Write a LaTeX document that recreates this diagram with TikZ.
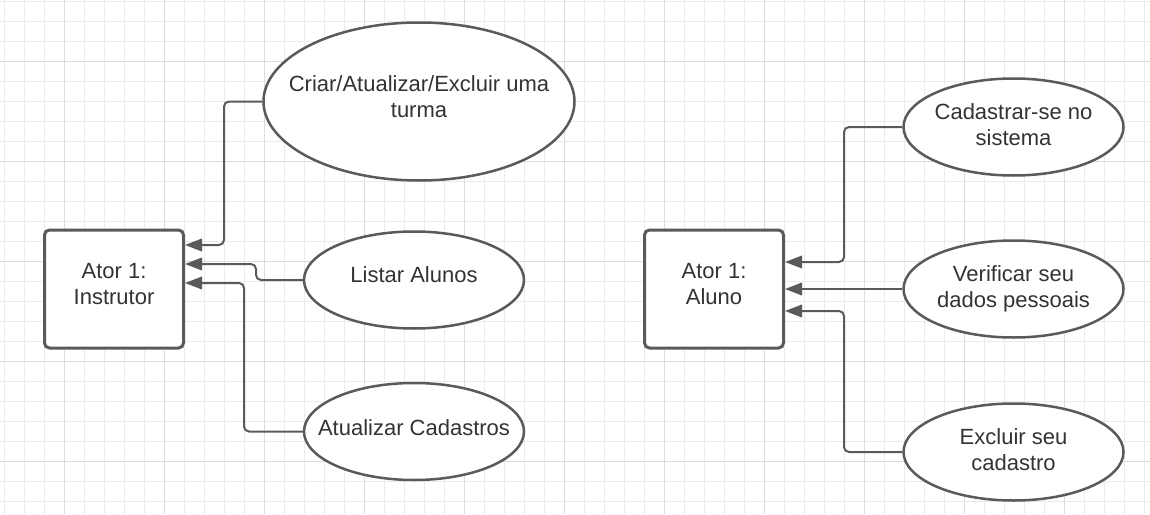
\documentclass[tikz,border=0pt]{standalone}
\usepackage{fontspec}
\setmainfont{Liberation Sans}
\usetikzlibrary{arrows.meta,shapes.geometric}
\definecolor{linegray}{HTML}{5A5A5A}
\definecolor{textgray}{HTML}{333333}
\definecolor{gridminor}{HTML}{EBEBEB}
\definecolor{gridmajor}{HTML}{DCDCDC}
\tikzset{
  actor/.style={draw=linegray, line width=3pt, rounded corners=5pt, fill=white,
    minimum width=139pt, minimum height=118pt, inner sep=0pt},
  usecase/.style={draw=linegray, line width=2.5pt, ellipse, fill=white,
    minimum width=220pt, minimum height=97pt, inner sep=0pt},
  uctext/.style={text=textgray, align=center, font=\fontsize{22}{26}\selectfont, inner sep=0pt},
  conn/.style={draw=linegray, line width=2pt, rounded corners=5pt,
    -{Triangle[length=17pt,width=12.5pt]}},
}
\begin{document}
\begin{tikzpicture}[x=1pt,y=-1pt]
  \fill[white] (0,0) rectangle (1150,514);
  \useasboundingbox (0,0) rectangle (1150,514);
  % grid
  \foreach \gx in {4,24,...,1150} \draw[gridminor, line width=1pt] (\gx,0) -- (\gx,514);
  \foreach \gy in {1,21,...,514} \draw[gridminor, line width=1pt] (0,\gy) -- (1150,\gy);
  \foreach \gx in {64,164,...,1150} \draw[gridmajor, line width=1pt] (\gx,0) -- (\gx,514);
  \foreach \gy in {61,161,...,514} \draw[gridmajor, line width=1pt] (0,\gy) -- (1150,\gy);

  % actors
  \node[actor] (ins) at (114,289) {};
  \node[uctext] (ti) at (114,284.5) {Ator 1:\\Instrutor};
  \node[actor] (alu) at (714,289) {};
  \node[uctext] (ta) at (714,284.5) {Ator 1:\\Aluno};

  % use cases (left)
  \node[usecase, minimum width=311pt, minimum height=158pt] (e1) at (419,101.5) {};
  \node[uctext] (t1) at (419,97) {Criar/Atualizar/Excluir uma\\turma};
  \node[usecase] (e2) at (414,280) {};
  \node[uctext] (t2) at (414,275) {Listar Alunos};
  \node[usecase] (e3) at (414,431.5) {};
  \node[uctext] (t3) at (414,428) {Atualizar Cadastros};

  % use cases (right)
  \node[usecase] (e4) at (1013.5,127) {};
  \node[uctext] (t4) at (1013.5,125) {Cadastrar-se no\\sistema};
  \node[usecase] (e5) at (1013.5,289) {};
  \node[uctext] (t5) at (1013.5,288.5) {Verificar seu\\dados pessoais};
  \node[usecase] (e6) at (1013.5,452) {};
  \node[uctext] (t6) at (1013.5,450) {Excluir seu\\cadastro};

  % connectors (left)
  \draw[conn] (e1.west) -- (224,101.5) -- (224,245) -- (ins.east |- 0,245);
  \draw[conn] (e2.west) -- (256,280) -- (256,264) -- (ins.east |- 0,264);
  \draw[conn] (e3.west) -- (244,431.5) -- (244,283) -- (ins.east |- 0,283);

  % connectors (right)
  \draw[conn] (e4.west) -- (844,127) -- (844,262) -- (alu.east |- 0,262);
  \draw[conn] (e5.west) -- (alu.east |- e5.west);
  \draw[conn] (e6.west) -- (844,452) -- (844,311) -- (alu.east |- 0,311);
\end{tikzpicture}
\end{document}
